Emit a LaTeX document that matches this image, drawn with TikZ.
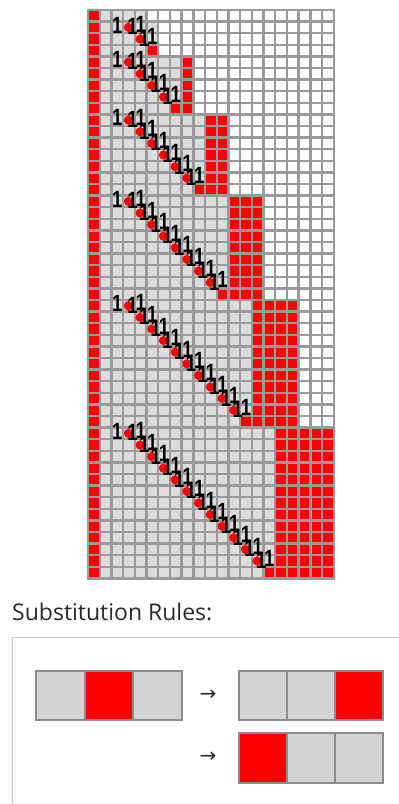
\documentclass[tikz,border=0pt]{standalone}
\usepackage{fontspec}
\setmainfont{Open Sans}
\newfontfamily\onefont{Liberation Sans}
\newfontfamily\arrowfont{DejaVu Sans}
\definecolor{cellgrey}{HTML}{DCDCDC}
\definecolor{rulegrey}{HTML}{D4D4D4}
\definecolor{cellred}{HTML}{FF0000}
\definecolor{gridcol}{HTML}{9A9A9A}
\definecolor{boxcol}{HTML}{C4C4C4}
\definecolor{rulebord}{HTML}{8C8C8C}
\definecolor{titlecol}{HTML}{2A2A2A}
\newcommand\gx{88}
\newcommand\gy{10}
\newcommand\cw{11.7}
\newcommand\ch{11.6}
\newcommand\cellrect[5]{\fill[#1] ({\gx+#4*\cw},{\gy+#2*\ch}) rectangle ({\gx+(#5+1)*\cw},{\gy+(#3+1)*\ch});}
\newcommand\onetxt{\scalebox{1.85}[2.35]{\onefont\bfseries 1}}
\newcommand\arrtxt{\scalebox{2.0}{\arrowfont →}}
\begin{document}
\begin{tikzpicture}[x=1pt,y=-1pt,
  gridline/.style={draw=gridcol,line width=2.4pt},
  onelabel/.style={inner sep=0pt,text=black},
  rulecell/.style={draw=rulebord,line width=2pt,minimum height=49pt,inner sep=0pt},
  arrowlabel/.style={inner sep=0pt,text=titlecol}]
\useasboundingbox (0,0) rectangle (399,804);
\clip (0,0) rectangle (399,804);
\fill[white] (0,0) rectangle (399,804);
% grey areas
\cellrect{cellgrey}{0}{0}{1}{4}
\foreach \n in {1,...,6}{
  \pgfmathtruncatemacro\ra{\n*\n}
  \pgfmathtruncatemacro\rb{\n*\n+2*\n}
  \pgfmathtruncatemacro\cb{2*\n+3}
  \cellrect{cellgrey}{\ra}{\rb}{1}{\cb}
}
% red right blocks
\foreach \n in {2,...,6}{
  \pgfmathtruncatemacro\ra{\n*\n}
  \pgfmathtruncatemacro\rb{\n*\n+2*\n}
  \pgfmathtruncatemacro\ca{2*\n+4}
  \pgfmathtruncatemacro\cb{3*\n+2}
  \cellrect{cellred}{\ra}{\rb}{\ca}{\cb}
}
% red first column
\cellrect{cellred}{0}{48}{0}{0}
% diagonal ends (full red squares)
\foreach \n in {1,...,6}{
  \pgfmathtruncatemacro\rr{\n*\n+2*\n}
  \pgfmathtruncatemacro\cc{3+2*\n}
  \cellrect{cellred}{\rr}{\rr}{\cc}{\cc}
}
% grid lines
\foreach \k in {0,...,21}{
  \draw[gridline] ({\gx+\k*\cw},\gy) -- ({\gx+\k*\cw},{\gy+49*\ch});
}
\foreach \k in {0,...,49}{
  \draw[gridline] ({\gx-1.2},{\gy+\k*\ch}) -- ({\gx+21*\cw+1.2},{\gy+\k*\ch});
}
% red dots on the diagonals
\foreach \n in {1,...,6}{
  \pgfmathtruncatemacro\m{2*\n-1}
  \foreach \i in {0,...,\m}{
    \fill[cellred] ({\gx+(3+\i+0.45)*\cw},{\gy+(\n*\n+\i+0.5)*\ch}) circle (4.6);
  }
}
% the 1 labels
\foreach \n in {1,...,6}{
  \pgfmathtruncatemacro\m{2*\n-1}
  \node[onelabel] (s-\n) at ({\gx+2.5*\cw},{\gy+(\n*\n+0.3)*\ch}) {\onetxt};
  \foreach \i in {0,...,\m}{
    \node[onelabel] (a-\n-\i) at ({\gx+(3+\i+0.8)*\cw},{\gy+(\n*\n+\i+0.45)*\ch}) {\onetxt};
    \node[onelabel] (b-\n-\i) at ({\gx+(3+\i+1.5)*\cw},{\gy+(\n*\n+\i+0.25)*\ch}) {\onetxt};
  }
}
% substitution rules
\node[anchor=base west,inner sep=0pt,font=\fontsize{23}{23}\selectfont,text=titlecol] (title) at (12,620) {Substitution Rules:};
\draw[boxcol,line width=1pt] (12,820) -- (12,637) -- (420,637);
\node[rulecell,fill=rulegrey,minimum width=48.7pt] (l1) at (60.3,695.5) {};
\node[rulecell,fill=cellred,minimum width=48.7pt] (l2) at (109,695.5) {};
\node[rulecell,fill=rulegrey,minimum width=48.7pt] (l3) at (157.7,695.5) {};
\node[arrowlabel] (ar1) at (208,695) {\arrtxt};
\node[rulecell,fill=rulegrey,minimum width=48pt] (r1) at (263,695.5) {};
\node[rulecell,fill=rulegrey,minimum width=48pt] (r2) at (311,695.5) {};
\node[rulecell,fill=cellred,minimum width=48pt] (r3) at (359,695.5) {};
\node[arrowlabel] (ar2) at (208,757.5) {\arrtxt};
\node[rulecell,fill=cellred,minimum width=48pt,minimum height=50pt] (q1) at (263,758) {};
\node[rulecell,fill=rulegrey,minimum width=48pt,minimum height=50pt] (q2) at (311,758) {};
\node[rulecell,fill=rulegrey,minimum width=48pt,minimum height=50pt] (q3) at (359,758) {};
\end{tikzpicture}
\end{document}
